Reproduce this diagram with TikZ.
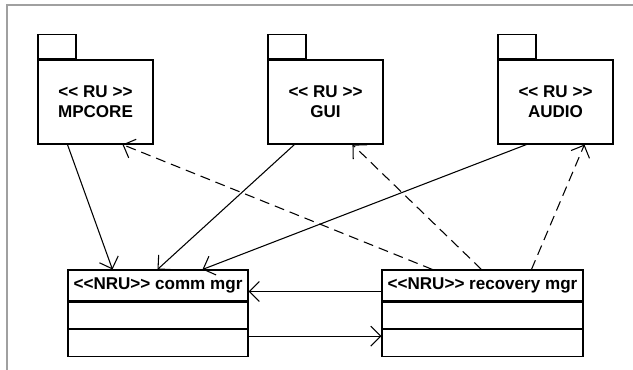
\documentclass[tikz,border=0pt]{standalone}
\usepackage{fontspec}
\setmainfont{Liberation Sans}
\usepackage{tikz}
\usetikzlibrary{arrows.meta,positioning,calc}
\usepackage{xcolor}
\definecolor{framegray}{RGB}{160,160,160}
\tikzstyle{pkg} = [rectangle, draw, line width=0.8pt, minimum width=86.25pt, minimum height=63pt, inner sep=0pt, align=center, font=\bfseries\fontsize{12.8}{15}\selectfont]
\tikzstyle{pkgtab} = [rectangle, draw, line width=0.8pt, minimum width=28.5pt, minimum height=18pt, inner sep=0pt]
\tikzstyle{classhead} = [rectangle, draw, line width=0.8pt, minimum height=23.25pt, inner sep=0pt, font=\bfseries\fontsize{12.8}{15}\selectfont]
\tikzstyle{classbox} = [rectangle, draw, line width=0.8pt, minimum height=20pt, inner sep=0pt]
\tikzstyle{assoc} = [line width=0.8pt, -{Straight Barb[length=7.5pt,width=15pt]}]
\tikzstyle{depend} = [assoc, dash pattern=on 7.5pt off 4.5pt]

\begin{document}
\begin{tikzpicture}[x=0.75pt, y=-0.75pt]
\useasboundingbox (0,0) rectangle (633,369);
% Frame
\draw[framegray, line width=1.5pt] (7,380) -- (7,5) -- (645,5);

% Packages
\node (mpcore) [pkg] at (95.5,102) {<{}< RU >{}>\\MPCORE};
\node (gui) [pkg] at (325.5,102) {<{}< RU >{}>\\GUI};
\node (audio) [pkg] at (555.5,102) {<{}< RU >{}>\\AUDIO};
\node (mpcoretab) [pkgtab, anchor=south west] at (mpcore.north west) {};
\node (guitab) [pkgtab, anchor=south west] at (gui.north west) {};
\node (audiotab) [pkgtab, anchor=south west] at (audio.north west) {};

% Classes
\node (comm) [classhead, minimum width=135pt] at (158,285.5) {<{}<NRU>{}> comm mgr};
\node (commattr) [classbox, minimum width=135pt, below=0pt of comm] {};
\node (commops) [classbox, minimum width=135pt, below=0pt of commattr] {};
\node (recovery) [classhead, minimum width=150.75pt] at (482.5,285.5) {<{}<NRU>{}> recovery mgr};
\node (recattr) [classbox, minimum width=150.75pt, below=0pt of recovery] {};
\node (recops) [classbox, minimum width=150.75pt, below=0pt of recattr] {};

% Arrows
\draw[assoc] ($(mpcore.south west)+(30,0)$) -- ($(comm.north west)+(45,0)$);
\draw[assoc] ($(gui.south west)+(27,0)$) -- ($(comm.north west)+(90,0)$);
\draw[assoc] ($(audio.south west)+(29,0)$) -- ($(comm.north west)+(135,0)$);
\draw[assoc] ($(recovery.west)+(0,6)$) -- ($(comm.east)+(0,6)$);
\draw[assoc] ($(commops.east)+(0,-7)$) -- ($(recops.west)+(0,-7)$);

% Dependencies
\draw[depend] ($(recovery.north west)+(51,0)$) -- ($(mpcore.south west)+(85,0)$);
\draw[depend] ($(recovery.north west)+(100,0)$) -- ($(gui.south west)+(85,0)$);
\draw[depend] ($(recovery.north west)+(150,0)$) -- ($(audio.south west)+(87,0)$);
\end{tikzpicture}
\end{document}
